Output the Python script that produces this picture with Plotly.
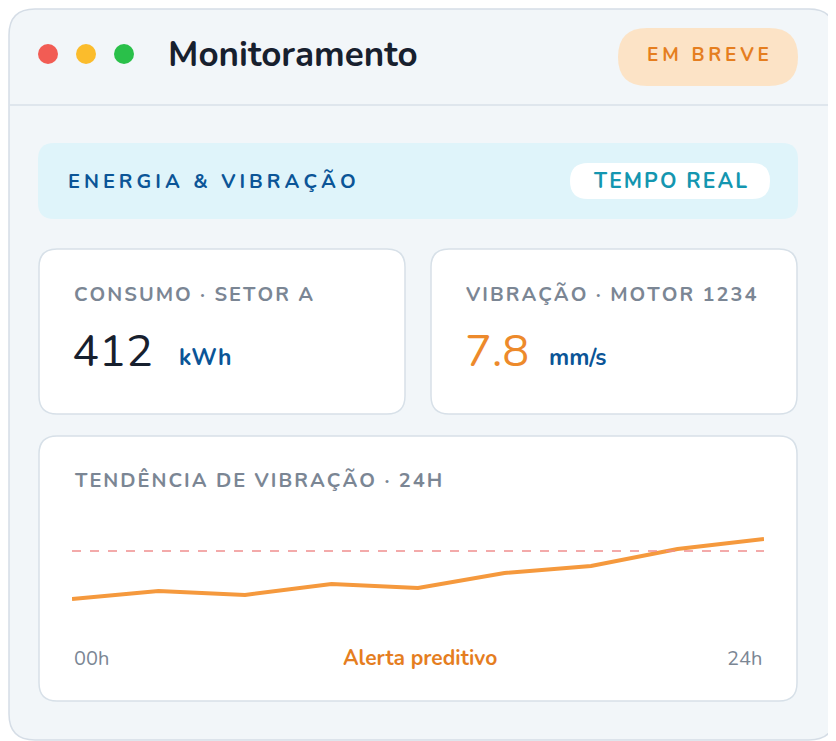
import plotly.graph_objects as go

W, H = 836, 741
OFF = 8  # page body margin
FW, FH = W - OFF, H - OFF

HOURS = ["00h", "03h", "06h", "09h", "12h", "15h", "18h", "21h", "24h"]
VIBRATION = [4.2, 4.68, 4.44, 5.1, 4.86, 5.76, 6.18, 7.2, 7.8]
ALERT_LIMIT = 7.08
CONSUMO_KWH = "412"
VIBRACAO_MMS = "7.8"

FONT = "Nunito, 'Open Sans', 'Noto Sans', sans-serif"
THIN, HAIR = "\u2009", "\u200a"


def px(x):
    return (x - OFF) / FW


def py(y):
    return 1 - (y - OFF) / FH


def spaced(s, sep):
    return sep.join(s)


def rounded(x0, y0, x1, y1, r):
    rx, ry = r / FW, r / FH
    a, b, c, d = px(x0), py(y1), px(x1), py(y0)
    return (f"M{a+rx},{b} L{c-rx},{b} Q{c},{b} {c},{b+ry} L{c},{d-ry} Q{c},{d} {c-rx},{d} "
            f"L{a+rx},{d} Q{a},{d} {a},{d-ry} L{a},{b+ry} Q{a},{b} {a+rx},{b} Z")


shapes = []


def box(x0, y0, x1, y1, r, fill, line=None, width=1.5):
    shapes.append(dict(type="path", path=rounded(x0, y0, x1, y1, r), xref="paper", yref="paper",
                       fillcolor=fill, line=dict(color=line or fill, width=width if line else 0),
                       layer="below"))


box(9, 9, 835, 740, 26, "#f2f6f9", "#d5dde6", 1.5)
shapes.append(dict(type="line", xref="paper", yref="paper", x0=px(10), x1=px(834), y0=py(105), y1=py(105),
                   line=dict(color="#d9e1e8", width=1.5)))
for cx, col in [(48, "#f25c54"), (86, "#fbbc2c"), (124, "#2ac04a")]:
    shapes.append(dict(type="circle", xref="paper", yref="paper", x0=px(cx - 10), x1=px(cx + 10),
                       y0=py(64), y1=py(44), fillcolor=col, line=dict(width=0)))
box(618, 28, 798, 86, 29, "#fce3c6")
box(38, 143, 798, 219, 16, "#dff4fa")
box(570, 163, 770, 199, 18, "#ffffff")
box(39, 249, 405, 414, 18, "#ffffff", "#d7e0e8")
box(431, 249, 797, 414, 18, "#ffffff", "#d7e0e8")
box(39, 436, 797, 701, 18, "#ffffff", "#d7e0e8")

anns = []


def text(x, y, s, size, color, xanchor="left", bold=True):
    t = f"<b>{s}</b>" if bold else s
    anns.append(dict(x=px(x), y=py(y), xref="paper", yref="paper", text=t, showarrow=False,
                     xanchor=xanchor, yanchor="middle",
                     font=dict(family=FONT, size=size, color=color)))


text(166, 55, "Monitoramento", 35, "#17202e")
text(708, 55, spaced("EM BREVE", THIN), 19, "#e57e1f", "center")
text(66, 181, spaced("ENERGIA & VIBRAÇÃO", THIN), 20, "#0b5597")
text(670, 181, spaced("TEMPO REAL", HAIR), 21, "#1496b0", "center")
text(72, 294, spaced("CONSUMO · SETOR A", HAIR), 20, "#7b8694")
text(70, 352, CONSUMO_KWH, 45, "#17202e", bold=False)
text(177, 358, "kWh", 23, "#0b5597")
text(464, 294, spaced("VIBRAÇÃO · MOTOR 1234", HAIR), 20, "#7b8694")
text(463, 352, VIBRACAO_MMS, 45, "#ed8a2b", bold=False)
text(547, 358, "mm/s", 23, "#0b5597")
text(72, 480, spaced("TENDÊNCIA DE VIBRAÇÃO · 24H", HAIR), 20, "#7b8694")
text(72, 658, HOURS[0], 20, "#7b8694", bold=False)
text(764, 658, HOURS[-1], 20, "#7b8694", "right", bold=False)
text(420, 658, "Alerta preditivo", 21, "#e57e1f", "center")

fig = go.Figure(go.Scatter(x=HOURS, y=VIBRATION, mode="lines",
                           line=dict(color="#f5993d", width=4), hoverinfo="skip"))
shapes.append(dict(type="line", xref="x domain", yref="y", x0=0, x1=1, y0=ALERT_LIMIT, y1=ALERT_LIMIT,
                   line=dict(color="#ef8f8f", width=1.5, dash="dash")))

fig.update_layout(
    width=FW, height=FH, margin=dict(l=0, r=0, t=0, b=0),
    paper_bgcolor="#ffffff", plot_bgcolor="rgba(0,0,0,0)", showlegend=False,
    xaxis=dict(domain=[px(72), px(764)], visible=False, range=[0, len(HOURS) - 1],
               type="category", fixedrange=True),
    yaxis=dict(domain=[py(620), py(520)], visible=False, range=[2.94, 8.94], fixedrange=True),
    shapes=shapes, annotations=anns,
)
fig.write_html("out.html")
